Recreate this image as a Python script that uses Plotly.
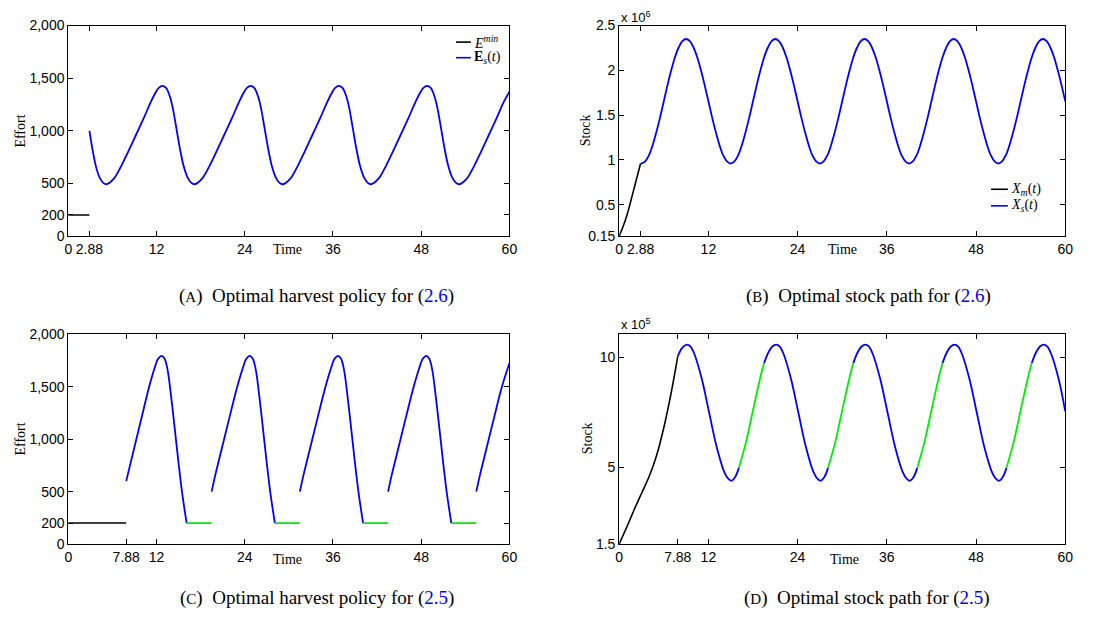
import plotly.graph_objects as go

W, H = 1094, 628

# ---------------- Panel A: optimal harvest policy for (2.6) ----------------
a_emin_t = [0, 2.88]
a_emin_e = [200, 200]
a_es_t = [2.88, 3.3, 3.8, 4.3, 4.8, 5.2, 6.2, 7.2, 8.2, 9.2, 10.2, 11.2, 11.8, 12.3, 12.8, 13.3, 13.8, 14.2, 14.7, 15.2, 15.7, 16.2, 16.7, 17.2,
          18.2, 19.2, 20.2, 21.2, 22.2, 23.2, 23.8, 24.3, 24.8, 25.3, 25.8, 26.2, 26.7, 27.2, 27.7, 28.2, 28.7, 29.2,
          30.2, 31.2, 32.2, 33.2, 34.2, 35.2, 35.8, 36.3, 36.8, 37.3, 37.8, 38.2, 38.7, 39.2, 39.7, 40.2, 40.7, 41.2,
          42.2, 43.2, 44.2, 45.2, 46.2, 47.2, 47.8, 48.3, 48.8, 49.3, 49.8, 50.2, 50.7, 51.2, 51.7, 52.2, 52.7, 53.2,
          54.2, 55.2, 56.2, 57.2, 58.2, 59.2, 60]
a_es_e = [1000, 820, 650, 550, 503, 492, 545, 665, 810, 960, 1110, 1270, 1355, 1408, 1427, 1408, 1330, 1220, 1025, 825, 662, 560, 508, 492,
          545, 665, 810, 960, 1110, 1270, 1355, 1408, 1427, 1408, 1330, 1220, 1025, 825, 662, 560, 508, 492,
          545, 665, 810, 960, 1110, 1270, 1355, 1408, 1427, 1408, 1330, 1220, 1025, 825, 662, 560, 508, 492,
          545, 665, 810, 960, 1110, 1270, 1355, 1408, 1427, 1408, 1330, 1220, 1025, 825, 662, 560, 508, 492,
          545, 665, 810, 960, 1110, 1270, 1372]

# ---------------- Panel B: optimal stock path for (2.6) (x 10^6) ----------------
b_xm_t = [0, 0.5, 1.0, 1.5, 2.0, 2.5, 2.88]
b_xm = [0.15, 0.25, 0.37, 0.52, 0.68, 0.84, 0.96]
b_xs_t = [2.88] + [3 + 0.5 * i for i in range(115)]
b_xs = [0.962,
        0.96, 0.984, 1.05, 1.164, 1.31, 1.475, 1.655, 1.835, 2.0, 2.146, 2.255, 2.326,
        2.35, 2.326, 2.255, 2.146, 2.0, 1.835, 1.655, 1.475, 1.31, 1.164, 1.05, 0.984,
        0.96, 0.984, 1.05, 1.164, 1.31, 1.475, 1.655, 1.835, 2.0, 2.146, 2.255, 2.326,
        2.35, 2.326, 2.255, 2.146, 2.0, 1.835, 1.655, 1.475, 1.31, 1.164, 1.05, 0.984,
        0.96, 0.984, 1.05, 1.164, 1.31, 1.475, 1.655, 1.835, 2.0, 2.146, 2.255, 2.326,
        2.35, 2.326, 2.255, 2.146, 2.0, 1.835, 1.655, 1.475, 1.31, 1.164, 1.05, 0.984,
        0.96, 0.984, 1.05, 1.164, 1.31, 1.475, 1.655, 1.835, 2.0, 2.146, 2.255, 2.326,
        2.35, 2.326, 2.255, 2.146, 2.0, 1.835, 1.655, 1.475, 1.31, 1.164, 1.05, 0.984,
        0.96, 0.984, 1.05, 1.164, 1.31, 1.475, 1.655, 1.835, 2.0, 2.146, 2.255, 2.326,
        2.35, 2.326, 2.255, 2.146, 2.0, 1.835, 1.655]

# ---------------- Panel C: optimal harvest policy for (2.5) ----------------
c_emin_t = [0, 7.88]
c_emin_e = [200, 200]
E_MIN = 200
green_start = [16.1, 28.1, 40.1, 52.1]
green_end = [19.5, 31.5, 43.5, 55.5]
c_es_t = [7.88, 9, 10, 11, 11.7, 12.2, 12.7, 13.1, 13.5, 14.0, 14.5, 15.0, 15.5, 16.1, None,
          19.5, 20, 21, 22, 23, 23.7, 24.2, 24.7, 25.1, 25.5, 26.0, 26.5, 27.0, 27.5, 28.1, None,
          31.5, 32, 33, 34, 35, 35.7, 36.2, 36.7, 37.1, 37.5, 38.0, 38.5, 39.0, 39.5, 40.1, None,
          43.5, 44, 45, 46, 47, 47.7, 48.2, 48.7, 49.1, 49.5, 50.0, 50.5, 51.0, 51.5, 52.1, None,
          55.5, 56, 57, 58, 59, 60]
c_es_e = [600, 925, 1215, 1500, 1670, 1765, 1795, 1768, 1665, 1400, 1090, 770, 480, 200, None,
          500, 660, 945, 1230, 1505, 1670, 1765, 1795, 1768, 1665, 1400, 1090, 770, 480, 200, None,
          500, 660, 945, 1230, 1505, 1670, 1765, 1795, 1768, 1665, 1400, 1090, 770, 480, 200, None,
          500, 660, 945, 1230, 1505, 1670, 1765, 1795, 1768, 1665, 1400, 1090, 770, 480, 200, None,
          500, 660, 945, 1230, 1505, 1725]

# ---------------- Panel D: optimal stock path for (2.5) (x 10^5) ----------------
d_xm_t = [0, 1, 2, 3, 4, 5, 6, 7, 7.88]
d_xm = [1.5, 2.25, 3.05, 3.8, 4.55, 5.5, 6.8, 8.4, 10.05]
d_x_t = [7.88, 8.5, 9.1, 9.6, 10.1, 11.1, 12.1, 13.1, 14.1, 14.6, 15.1, 15.6, 16.1, 17.1, 18.1, 19.1, 19.5, 20.1, 20.6,
         21.1, 21.6, 22.1, 23.1, 24.1, 25.1, 26.1, 26.6, 27.1, 27.6, 28.1, 29.1, 30.1, 31.1, 31.5, 32.1, 32.6,
         33.1, 33.6, 34.1, 35.1, 36.1, 37.1, 38.1, 38.6, 39.1, 39.6, 40.1, 41.1, 42.1, 43.1, 43.5, 44.1, 44.6,
         45.1, 45.6, 46.1, 47.1, 48.1, 49.1, 50.1, 50.6, 51.1, 51.6, 52.1, 53.1, 54.1, 55.1, 55.5, 56.1, 56.6,
         57.1, 57.6, 58.1, 59.1, 60]
d_x = [10.05, 10.45, 10.59, 10.5, 10.17, 9.04, 7.49, 5.94, 4.81, 4.5, 4.38, 4.55, 4.97, 6.2, 7.75, 9.25, 9.75, 10.25, 10.5,
       10.59, 10.5, 10.17, 9.04, 7.49, 5.94, 4.81, 4.5, 4.38, 4.55, 4.97, 6.2, 7.75, 9.25, 9.75, 10.25, 10.5,
       10.59, 10.5, 10.17, 9.04, 7.49, 5.94, 4.81, 4.5, 4.38, 4.55, 4.97, 6.2, 7.75, 9.25, 9.75, 10.25, 10.5,
       10.59, 10.5, 10.17, 9.04, 7.49, 5.94, 4.81, 4.5, 4.38, 4.55, 4.97, 6.2, 7.75, 9.25, 9.75, 10.25, 10.5,
       10.59, 10.5, 10.17, 9.04, 7.55]

BLUE = "#0000ff"
GREEN = "#00ee00"
BLACK = "#000000"
SANS = "Liberation Sans"
SERIF = "Liberation Serif"


def in_green(t, strict):
    for s, e in zip(green_start, green_end):
        if strict and s < t < e:
            return True
        if not strict and s <= t <= e:
            return True
    return False


d_blue = [v if not in_green(t, True) else None for t, v in zip(d_x_t, d_x)]
d_green = [v if in_green(t, False) else None for t, v in zip(d_x_t, d_x)]

fig = go.Figure()


def line(x, y, color, width, xa, ya, shape="spline"):
    fig.add_trace(go.Scatter(x=x, y=y, mode="lines", xaxis=xa, yaxis=ya,
                             line=dict(color=color, width=width, shape=shape, smoothing=1.0),
                             connectgaps=False, showlegend=False, hoverinfo="skip"))


# A
line(a_emin_t, a_emin_e, BLACK, 1.6, "x", "y", "linear")
line(a_es_t, a_es_e, BLUE, 1.8, "x", "y")
# B
line(b_xm_t, b_xm, BLACK, 1.6, "x2", "y2")
line(b_xs_t, b_xs, BLUE, 1.8, "x2", "y2")
# C
line(c_emin_t, c_emin_e, BLACK, 1.6, "x3", "y3", "linear")
line(c_es_t, c_es_e, BLUE, 1.8, "x3", "y3")
gx, gy = [], []
for s, e in zip(green_start, green_end):
    gx += [s, e, None]
    gy += [E_MIN, E_MIN, None]
line(gx, gy, GREEN, 1.8, "x3", "y3", "linear")
# D
line(d_xm_t, d_xm, BLACK, 1.6, "x4", "y4")
line(d_x_t, d_blue, BLUE, 1.8, "x4", "y4")
line(d_x_t, d_green, GREEN, 1.8, "x4", "y4")


def px(x):
    return x / W


def py(y):
    return 1 - y / H


def ax(domain, rng, tickvals, ticktext, anchor):
    return dict(domain=domain, range=rng, tickvals=tickvals, ticktext=ticktext, anchor=anchor,
                showline=True, linecolor="black", linewidth=1, mirror="ticks",
                ticks="inside", ticklen=5, tickcolor="black", tickwidth=1,
                showgrid=False, zeroline=False,
                tickfont=dict(family=SANS, size=14, color="black"))


xl = [px(65), px(511)]
xr = [px(622), px(1073)]
ytop = [py(234), py(18)]
ybot = [py(550), py(335)]

t1 = [0, 2.88, 12, 24, 36, 48, 60]
t2 = [0, 7.88, 12, 24, 36, 48, 60]
lab1 = ["0", "2.88", "12", "24", "36", "48", "60"]
lab2 = ["0", "7.88", "12", "24", "36", "48", "60"]
ey = [0, 200, 500, 1000, 1500, 2000]
eyl = ["0", "200", "500", "1,000", "1,500", "2,000"]

fig.update_layout(
    width=W, height=H, autosize=False,
    margin=dict(l=0, r=0, t=0, b=0),
    paper_bgcolor="white", plot_bgcolor="white",
    xaxis=ax(xl, [0, 60], t1, lab1, "y"),
    yaxis=ax(ytop, [0, 2000], ey, eyl, "x"),
    xaxis2=ax(xr, [0, 60], t1, lab1, "y2"),
    yaxis2=ax(ytop, [0.15, 2.5], [0.15, 0.5, 1, 1.5, 2, 2.5], ["0.15", "0.5", "1", "1.5", "2", "2.5"], "x2"),
    xaxis3=ax(xl, [0, 60], t2, lab2, "y3"),
    yaxis3=ax(ybot, [0, 2000], ey, eyl, "x3"),
    xaxis4=ax(xr, [0, 60], t2, lab2, "y4"),
    yaxis4=ax(ybot, [1.5, 11.05], [1.5, 5, 10], ["1.5", "5", "10"], "x4"),
)

ann = []


def text(x, y, s, size=14, family=SERIF, xanchor="center", yanchor="middle", angle=0, color="black"):
    ann.append(dict(x=px(x), y=py(y), xref="paper", yref="paper", text=s, showarrow=False,
                    xanchor=xanchor, yanchor=yanchor, textangle=angle,
                    font=dict(family=family, size=size, color=color)))


# axis titles
text(17, 126, "Effort", angle=-90)
text(588, 126, "Stock", angle=-90)
text(17, 442, "Effort", angle=-90)
text(590, 442, "Stock", angle=-90)
text(287, 248, "Time")
text(848, 248, "Time")
text(287, 566, "Time")
text(850, 566, "Time")

# multipliers
text(622, 20, "x 10<sup>6</sup>", size=13, family=SANS, xanchor="left", yanchor="bottom")
text(622, 335, "x 10<sup>5</sup>", size=13, family=SANS, xanchor="left", yanchor="bottom")

# legends (drawn manually)
shapes = []


def leg(x0, x1, y, color, label):
    shapes.append(dict(type="line", xref="paper", yref="paper", x0=px(x0), x1=px(x1), y0=py(y), y1=py(y),
                       line=dict(color=color, width=1.6)))
    text(x1 + 1, y, label, size=14, xanchor="left")


leg(457, 472, 35, BLACK, "<i>E</i><sup><i>min</i></sup>")
leg(457, 472, 51, BLUE, "<b>E</b><sub><i>s</i></sub>(<i>t</i>)")
leg(998, 1015, 186, BLACK, "<i>X</i><sub><i>m</i></sub>(<i>t</i>)")
leg(998, 1015, 203, BLUE, "<i>X</i><sub><i>s</i></sub>(<i>t</i>)")


# captions
def cap(x, y, letter, body, ref):
    s = ("(<span style='font-size:15px'>%s</span>)  %s (<span style='color:#0000ff'>%s</span>)"
         % (letter, body, ref))
    text(x, y, s, size=19)


cap(316, 296, "A", "Optimal harvest policy for", "2.6")
cap(874, 296, "B", "Optimal stock path for", "2.6")
cap(316, 605, "C", "Optimal harvest policy for", "2.5")
cap(873, 605, "D", "Optimal stock path for", "2.5")

fig.update_layout(annotations=ann, shapes=shapes)
fig.write_html("out.html")
